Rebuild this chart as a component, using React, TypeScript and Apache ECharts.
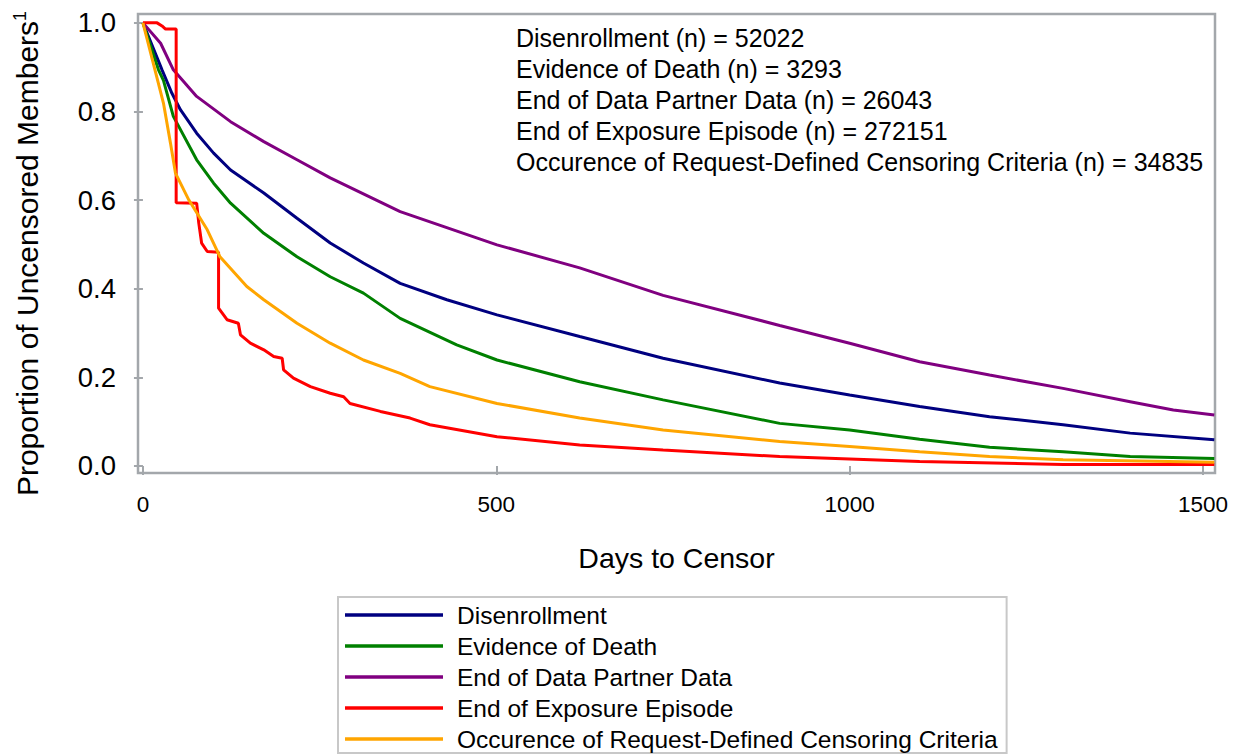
import React, { useEffect, useRef } from "react";
import * as echarts from "echarts";

const categories = [
  "Disenrollment",
  "Evidence of Death",
  "End of Data Partner Data",
  "End of Exposure Episode",
  "Occurence of Request-Defined Censoring Criteria",
];
const censorCounts = [52022, 3293, 26043, 272151, 34835];
const seriesColors = ["#000080", "#008000", "#800080", "#FF0000", "#FFA500"];

const xTicks = [0, 500, 1000, 1500];
const yTicks = [0, 0.2, 0.4, 0.6, 0.8, 1.0];

const disenrollment = [
  [0, 1.0], [27, 0.894], [41, 0.841], [53, 0.804], [76, 0.751], [100, 0.706],
  [124, 0.668], [171, 0.616], [218, 0.559], [265, 0.503], [312, 0.458],
  [364, 0.412], [430, 0.375], [501, 0.341], [618, 0.292], [736, 0.243],
  [901, 0.187], [1000, 0.16], [1099, 0.134], [1198, 0.111], [1302, 0.093],
  [1397, 0.074], [1516, 0.059],
];
const evidenceOfDeath = [
  [0, 1.0], [22, 0.894], [29, 0.87], [43, 0.789], [76, 0.691], [100, 0.638],
  [124, 0.593], [171, 0.525], [218, 0.472], [265, 0.427], [312, 0.39],
  [364, 0.333], [444, 0.273], [501, 0.239], [618, 0.19], [736, 0.149],
  [901, 0.096], [1000, 0.081], [1099, 0.06], [1198, 0.042], [1302, 0.032],
  [1397, 0.021], [1516, 0.017],
];
const endOfPartnerData = [
  [0, 1.0], [25, 0.954], [43, 0.894], [76, 0.834], [124, 0.777], [171, 0.732],
  [218, 0.691], [265, 0.65], [364, 0.574], [501, 0.499], [618, 0.447],
  [736, 0.385], [901, 0.317], [1000, 0.277], [1099, 0.235], [1198, 0.205],
  [1302, 0.175], [1397, 0.145], [1458, 0.126], [1516, 0.115],
];
const endOfExposure = [
  [0, 1.0], [20, 1.0], [27, 0.993], [32, 0.986], [47, 0.986], [47, 0.594],
  [76, 0.593], [79, 0.548], [83, 0.503], [91, 0.484], [107, 0.482],
  [107, 0.356], [119, 0.33], [135, 0.322], [138, 0.296], [152, 0.277],
  [171, 0.262], [185, 0.247], [197, 0.243], [199, 0.217], [213, 0.198],
  [237, 0.179], [265, 0.164], [284, 0.156], [293, 0.141], [336, 0.123],
  [378, 0.108], [406, 0.093], [501, 0.066], [618, 0.047], [736, 0.036],
  [901, 0.021], [1099, 0.01], [1302, 0.003], [1516, 0.003],
];
const requestDefined = [
  [0, 1.0], [17, 0.894], [29, 0.819], [39, 0.728], [46, 0.661], [65, 0.6],
  [91, 0.533], [109, 0.472], [147, 0.405], [171, 0.375], [218, 0.322],
  [265, 0.277], [312, 0.239], [364, 0.209], [406, 0.179], [501, 0.141],
  [618, 0.108], [736, 0.081], [901, 0.055], [1000, 0.044], [1099, 0.032],
  [1198, 0.021], [1302, 0.014], [1516, 0.008],
];

const seriesData = [disenrollment, evidenceOfDeath, endOfPartnerData, endOfExposure, requestDefined];

const FONT = "'Liberation Sans', Arial, sans-serif";
const FRAME = "#a3a7ab";

export default function App() {
  const ref = useRef<HTMLDivElement>(null);
  useEffect(() => {
    if (!ref.current) return;
    const chart = echarts.init(ref.current, null, { renderer: "svg" });
    const annotation = categories.map((c, i) => `${c} (n) = ${censorCounts[i]}`).join("\n");
    chart.setOption({
      animation: false,
      backgroundColor: "#fff",
      textStyle: { fontFamily: FONT, color: "#000" },
      grid: {
        left: 138, right: 23, top: 14, bottom: 283,
        show: true, borderColor: FRAME, borderWidth: 2.5, containLabel: false,
      },
      xAxis: {
        type: "value",
        min: -7, max: 1517,
        name: "Days to Censor",
        nameLocation: "middle",
        nameGap: 70,
        nameTextStyle: { fontSize: 28.5, fontFamily: FONT, color: "#000" },
        axisLine: { show: false },
        splitLine: { show: false },
        axisTick: { show: true, customValues: xTicks, length: 9, lineStyle: { color: FRAME, width: 2 } },
        axisLabel: {
          customValues: xTicks, fontSize: 22.5, margin: 20, color: "#000", fontFamily: FONT,
          formatter: (v: number) => String(v),
        },
      },
      yAxis: {
        type: "value",
        min: -0.016, max: 1.02,
        name: "Proportion of Uncensored Members{sup|1}",
        nameLocation: "middle",
        nameGap: 95,
        nameRotate: 90,
        nameTextStyle: {
          fontSize: 30, fontFamily: FONT, color: "#000",
          padding: [0, 20, 0, 0],
          rich: { sup: { fontSize: 18, fontFamily: FONT, padding: [0, 0, 14, 0] } },
        },
        axisLine: { show: false },
        splitLine: { show: false },
        axisTick: { show: true, customValues: yTicks, length: 9, lineStyle: { color: FRAME, width: 2 } },
        axisLabel: {
          customValues: yTicks, fontSize: 27.5, margin: 22, color: "#000", fontFamily: FONT,
          formatter: (v: number) => v.toFixed(1),
        },
      },
      legend: {
        orient: "vertical",
        left: 338, top: 597,
        padding: [5, 9, 1, 7],
        borderColor: "#c8c8c8", borderWidth: 2,
        icon: "rect",
        itemWidth: 98, itemHeight: 3.5, itemGap: 5,
        textStyle: { fontSize: 24.5, lineHeight: 26, fontFamily: FONT, color: "#000", padding: [0, 0, 0, 9] },
        data: categories,
      },
      graphic: [
        {
          type: "text",
          x: 516, y: 22.5,
          style: {
            text: annotation,
            fontSize: 25, fontFamily: FONT, lineHeight: 31,
            fill: "#000", verticalAlign: "top", align: "left",
          },
        },
      ],
      series: categories.map((name, i) => ({
        name,
        type: "line",
        data: seriesData[i],
        symbol: "none",
        showSymbol: false,
        color: seriesColors[i],
        itemStyle: { color: seriesColors[i] },
        lineStyle: { color: seriesColors[i], width: 3 },
        silent: true,
      })),
    });
    return () => chart.dispose();
  }, []);
  return (
    <div
      ref={ref}
      style={{ position: "absolute", left: 0, top: 0, width: 1238, height: 756 }}
    />
  );
}
